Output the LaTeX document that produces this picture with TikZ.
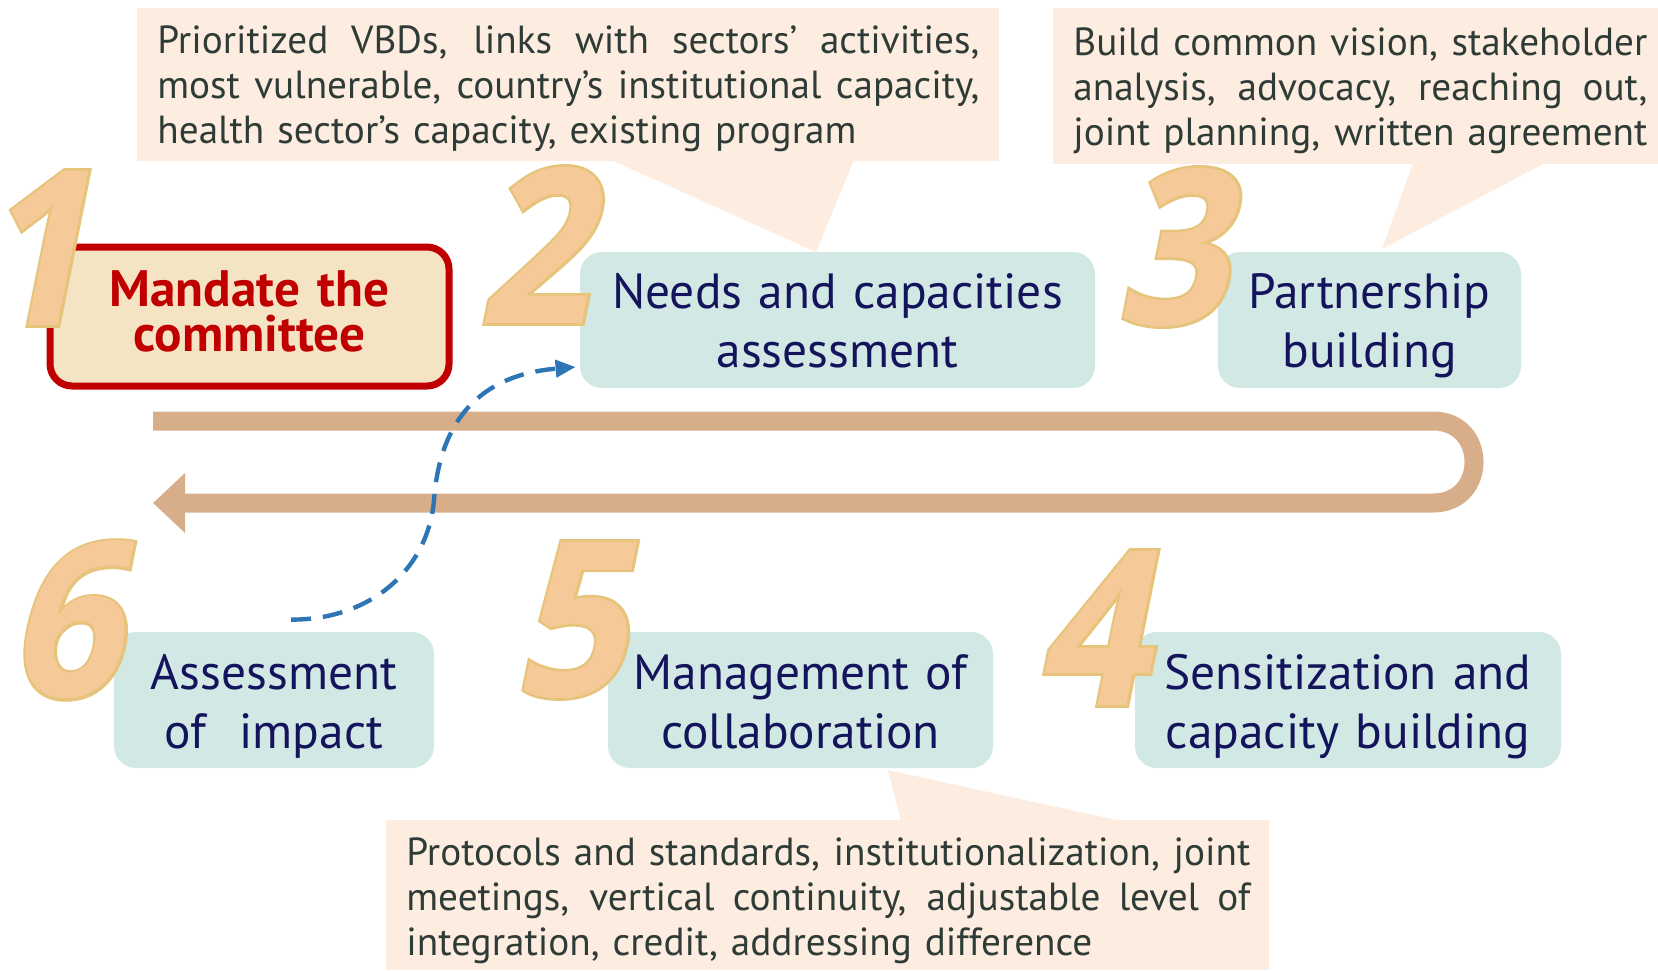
\documentclass[tikz,border=0pt]{standalone}
\usepackage{fontspec}
\setmainfont{PT Sans}
\newfontfamily\digitfont[FakeSlant=0.2,FakeStretch=0.9]{Open Sans}
\newfontfamily\digitfontout[FakeSlant=0.2,FakeStretch=0.9,FakeBold=2.5]{Open Sans}
\usetikzlibrary{arrows.meta,calc}
\newcommand\jline[2]{\makebox[#1][s]{\spaceskip=0pt\xspaceskip=0pt\relax#2}}
\definecolor{callfill}{HTML}{FDEDE0}
\definecolor{calltext}{HTML}{2E3B36}
\definecolor{tealfill}{HTML}{D2E8E4}
\definecolor{navy}{HTML}{14145C}
\definecolor{mandfill}{HTML}{F5E4C4}
\definecolor{mandred}{HTML}{C00000}
\definecolor{uarrow}{HTML}{D8AE8A}
\definecolor{dashblue}{HTML}{2E75B6}
\definecolor{digfill}{HTML}{F6CA98}
\definecolor{digline}{HTML}{E6C47C}
\begin{document}
\begin{tikzpicture}[x=0.5pt,y=-0.5pt,
  callbox/.style={fill=callfill,inner sep=0,anchor=north west},
  calltxt/.style={inner sep=0,anchor=base west,text=calltext,align=left,
    font=\fontsize{19.6}{22.5}\selectfont},
  tbox/.style={fill=tealfill,rounded corners=11pt,minimum height=68pt,inner sep=0},
  ttxt/.style={inner sep=0,anchor=base,text=navy,text width=260pt,align=center,
    font=\fontsize{24.7}{29.5}\selectfont},
  mbox/.style={fill=mandfill,draw=mandred,line width=3.5pt,rounded corners=11pt,
    minimum width=199.5pt,minimum height=69.5pt,inner sep=0},
  mtxt/.style={inner sep=0,anchor=base,text=mandred,text width=200pt,align=center,
    font=\bfseries\fontsize{25.6}{22.5}\selectfont},
  digo/.style={inner sep=0,text=digline,font=\digitfontout\bfseries\fontsize{108}{108}\selectfont},
  digi/.style={inner sep=0,text=digfill,font=\digitfont\bfseries\fontsize{108}{108}\selectfont},
  uturn/.style={draw=uarrow,line width=9.5pt},
  dashed link/.style={draw=dashblue,line width=2.2pt,dash pattern=on 10pt off 6pt,
    -{Triangle[length=10pt,width=8.5pt]}}
]
\useasboundingbox (0,0) rectangle (1658,970);

% callouts
\node[callbox,minimum width=431pt,minimum height=76.5pt] (c1) at (137,8) {};
\fill[callfill] (611,160) -- (816,252) -- (854,160) -- cycle;
\node[calltxt,text width=411pt] (c1t) at (157,53) {\jline{411pt}{Prioritized VBDs, links with sectors’ activities,}\\
\jline{411pt}{most vulnerable, country’s institutional capacity,}\\
health sector’s capacity, existing program};

\node[callbox,minimum width=302.5pt,minimum height=78pt] (c2) at (1053,8) {};
\fill[callfill] (1413,163) -- (1382,249) -- (1545,163) -- cycle;
\node[calltxt,text width=287pt] (c2t) at (1073,55) {\jline{287pt}{Build common vision, stakeholder}\\
\jline{287pt}{analysis, advocacy, reaching out,}\\
\jline{287pt}{joint planning, written agreement}};

\node[callbox,minimum width=441.5pt,minimum height=75pt] (c3) at (386,820) {};
\fill[callfill] (901,821) -- (888,770) -- (1121,821) -- cycle;
\node[calltxt,text width=422pt] (c3t) at (406,865) {\jline{422pt}{Protocols and standards, institutionalization, joint}\\
\jline{422pt}{meetings, vertical continuity, adjustable level of}\\
integration, credit, addressing difference};

% U-turn arrow
\coordinate (ustart) at (153,421);
\coordinate (uright) at (1433,421);
\coordinate (uleft) at (153,503);
\draw[uturn,-{Triangle[length=16pt,width=29pt]}] (ustart) -- (uright)
  .. controls (1487.7,421) and (1487.7,503) .. (1433,503) -- (uleft);

% boxes
\node[mbox] (b1) at (249.5,316.5) {};
\node[tbox,minimum width=257.5pt] (b2) at (837.5,320) {};
\node[tbox,minimum width=151.5pt] (b3) at (1369.5,320) {};
\node[tbox,minimum width=213pt] (b4) at (1348,700) {};
\node[tbox,minimum width=192.5pt] (b5) at (800.5,700) {};
\node[tbox,minimum width=160pt] (b6) at (274,700) {};

\node[mtxt] (t1) at (249.5,306) {Mandate the\\committee};
\node[ttxt] (t2) at (837.5,308) {Needs and capacities\\assessment};
\node[ttxt] (t3) at (1369.5,308) {Partnership\\building};
\node[ttxt] (t4) at (1348,689) {Sensitization and\\capacity building};
\node[ttxt] (t5) at (800.5,689) {Management of\\collaboration};
\node[ttxt] (t6) at (274,689) {Assessment\\of~~impact};

% digits
\foreach \n/\d/\p in {d1/1/{(33,248)},d2/2/{(533,245)},d3/3/{(1171,247)},
                      d4/4/{(1091,628)},d5/5/{(569,620)},d6/6/{(64,620)}}{
  \node[digo] at \p {\d};
  \node[digi] (\n) at \p {\d};
}

% dashed link
\draw[dashed link] ($(b6.north)+(17,-12)$) .. controls (370,620) and (428,570) .. (434,500)
  .. controls (440,420) and (480,375) .. ($(b2.west)+(-4,47)$);
\end{tikzpicture}
\end{document}
